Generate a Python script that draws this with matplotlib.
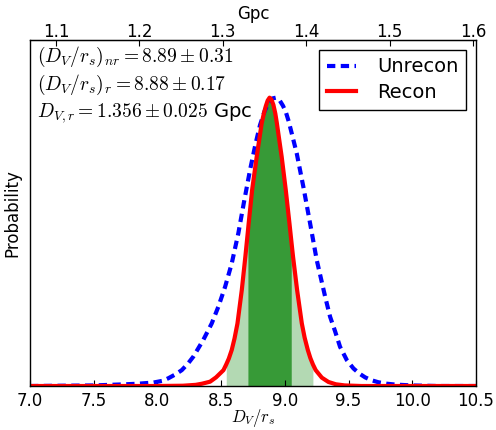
import numpy as np
import matplotlib
matplotlib.use("Agg")
import matplotlib.pyplot as plt

# ---- data ----
recon_x = [7.0, 7.5, 8.0, 8.2, 8.30, 8.35, 8.413, 8.46, 8.518, 8.54, 8.56, 8.583,
           8.605, 8.628, 8.662, 8.690, 8.71, 8.716, 8.743, 8.779, 8.818, 8.835,
           8.85, 8.865, 8.88, 8.895, 8.91, 8.925, 8.936, 8.975, 9.007, 9.036, 9.05,
           9.064, 9.096, 9.133, 9.155, 9.180, 9.20, 9.22, 9.242, 9.29, 9.342, 9.40,
           9.47, 9.6, 10.5]
recon_y = [0.0, 0.0, 0.0, 0.001, 0.004, 0.008, 0.015, 0.030, 0.055, 0.075, 0.095, 0.125,
           0.165, 0.217, 0.333, 0.449, 0.537, 0.564, 0.680, 0.795, 0.911, 0.945,
           0.970, 0.990, 1.0, 0.993, 0.975, 0.945, 0.915, 0.795, 0.680, 0.564, 0.506,
           0.449, 0.333, 0.217, 0.168, 0.125, 0.097, 0.075, 0.055, 0.029, 0.014, 0.006,
           0.002, 0.0, 0.0]

unrecon_x = [7.0, 7.5, 7.75, 7.85, 7.968, 8.04, 8.086, 8.14, 8.191, 8.24, 8.282,
             8.360, 8.426, 8.478, 8.531, 8.583, 8.635, 8.680, 8.727, 8.77, 8.805,
             8.84, 8.87, 8.90, 8.93, 8.96, 8.985, 9.007, 9.03, 9.054, 9.093, 9.145,
             9.198, 9.250, 9.316, 9.355, 9.394, 9.433, 9.486, 9.538, 9.585, 9.630,
             9.68, 9.734, 9.80, 9.865, 9.996, 10.2, 10.5]
unrecon_y = [0.0, 0.002, 0.006, 0.008, 0.012, 0.018, 0.027, 0.040, 0.055, 0.078, 0.102,
             0.160, 0.217, 0.275, 0.344, 0.425, 0.530, 0.640, 0.750, 0.840, 0.905,
             0.952, 0.982, 0.997, 1.0, 0.990, 0.972, 0.951, 0.918, 0.876, 0.807, 0.691,
             0.564, 0.437, 0.310, 0.240, 0.190, 0.136, 0.090, 0.061, 0.043, 0.030,
             0.020, 0.013, 0.008, 0.005, 0.002, 0.0, 0.0]

one_sigma = (8.71, 9.05)
two_sigma = (8.54, 9.22)

dv_rs_recon = 8.88
dv_gpc_recon = 1.356

xticks_bottom = [7.0, 7.5, 8.0, 8.5, 9.0, 9.5, 10.0, 10.5]
xticks_top = [1.1, 1.2, 1.3, 1.4, 1.5, 1.6]

labels = ["Unrecon", "Recon"]
annot = [r"$(D_V/r_s)_{nr} = 8.89 \pm 0.31$",
         r"$(D_V/r_s)_{r} = 8.88 \pm 0.17$",
         r"$D_{V,r} = 1.356 \pm 0.025$ Gpc"]

# ---- plot ----
plt.rcParams['mathtext.fontset'] = 'cm'
plt.rcParams['font.family'] = ['DejaVu Sans']

fig = plt.figure(figsize=(4.96, 4.30), dpi=100)
ax = fig.add_axes([0.0605, 0.1023, 0.8992, 0.8047])

rx = np.array(recon_x)
ry = np.array(recon_y)
ax.fill_between(rx, ry, where=(rx >= two_sigma[0]) & (rx <= two_sigma[1]),
                color='#b3d9b3', lw=0)
ax.fill_between(rx, ry, where=(rx >= one_sigma[0]) & (rx <= one_sigma[1]),
                color='#379a37', lw=0)

ax.plot(unrecon_x, unrecon_y, color='b', lw=3.0, ls=(0, (2.0, 1.3)),
        label=labels[0])
ax.plot(recon_x, recon_y, color='r', lw=3, label=labels[1],
        solid_joinstyle='round')

ax.set_xlim(7.0, 10.5)
ax.set_ylim(0, 1.2)
ax.set_xticks(xticks_bottom)
ax.set_xticklabels([f"{t:.1f}" for t in xticks_bottom])
ax.set_yticks([])
ax.tick_params(axis='x', direction='in', length=4, labelsize=12, pad=4)
ax.set_xlabel(r"$D_V/r_s$", fontsize=12, labelpad=-1.5)
ax.set_ylabel("Probability", fontsize=12, labelpad=6)
for s in ax.spines.values():
    s.set_linewidth(1.0)

scale = dv_gpc_recon / dv_rs_recon
sec = ax.secondary_xaxis('top', functions=(lambda x: x * scale, lambda g: g / scale))
sec.set_xticks(xticks_top)
sec.set_xticklabels([f"{t:.1f}" for t in xticks_top])
sec.tick_params(direction='in', length=4, labelsize=12, pad=-1)
sec.set_xlabel("Gpc", fontsize=12, labelpad=3)

for i, (txt, yy) in enumerate(zip(annot, [0.951, 0.870, 0.790])):
    ax.text(0.016, yy, txt, transform=ax.transAxes, fontsize=14,
            ha='left', va='center')

leg = ax.legend(loc='upper right', fontsize=14, handlelength=1.5,
                handletextpad=1.1, borderaxespad=0.5, fancybox=False,
                framealpha=1, edgecolor='k', labelspacing=0.35, borderpad=0.4)
leg.get_frame().set_linewidth(1.0)

fig.savefig("out.png", dpi=100)
